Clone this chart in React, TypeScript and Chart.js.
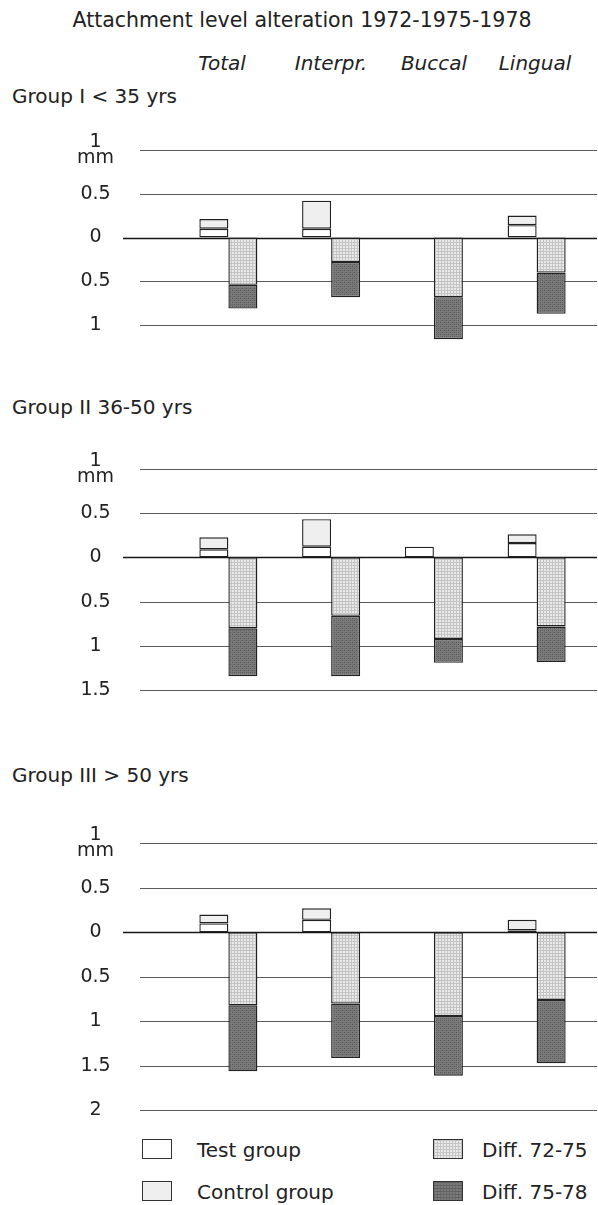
import React, { useEffect, useRef } from 'react';
import { Chart, registerables } from 'chart.js';

Chart.register(...registerables);

// ---------- DATA ----------
const TITLE = 'Attachment level alteration 1972-1975-1978';
const CATEGORIES = ['Total', 'Interpr.', 'Buccal', 'Lingual'];
const GROUP_LABELS = ['Group I < 35 yrs', 'Group II 36-50 yrs', 'Group III > 50 yrs'];
const SERIES_NAMES = ['Test group', 'Control group', 'Diff. 72-75', 'Diff. 75-78'];

// Group I < 35 yrs (mm)
const G1_TEST = [0.1, 0.1, 0, 0.14];
const G1_CONTROL = [0.11, 0.32, 0, 0.11];
const G1_DIFF_72_75 = [0.54, 0.28, 0.68, 0.4];
const G1_DIFF_75_78 = [0.27, 0.4, 0.48, 0.47];
const G1_TICKS = [1, 0.5, 0, -0.5, -1];

// Group II 36-50 yrs (mm)
const G2_TEST = [0.09, 0.12, 0.12, 0.16];
const G2_CONTROL = [0.135, 0.31, 0, 0.1];
const G2_DIFF_72_75 = [0.8, 0.66, 0.92, 0.78];
const G2_DIFF_75_78 = [0.54, 0.68, 0.27, 0.4];
const G2_TICKS = [1, 0.5, 0, -0.5, -1, -1.5];

// Group III > 50 yrs (mm)
const G3_TEST = [0.1, 0.14, 0, 0.02];
const G3_CONTROL = [0.1, 0.13, 0, 0.12];
const G3_DIFF_72_75 = [0.82, 0.8, 0.94, 0.76];
const G3_DIFF_75_78 = [0.74, 0.61, 0.67, 0.71];
const G3_TICKS = [1, 0.5, 0, -0.5, -1, -1.5, -2];

// ---------- LAYOUT / STYLE ----------
const FONT = "'DejaVu Sans', sans-serif";
const TEXT_COLOR = '#222';
const HEADER_X = [222, 331, 434, 535];

type PanelDef = {
  test: number[];
  control: number[];
  d1: number[];
  d2: number[];
  ticks: number[];
  label: string;
  labelTop: number;
  top: number;
  height: number;
  zeroY: number;
  pxPerMm: number;
};

const PANELS: PanelDef[] = [
  { test: G1_TEST, control: G1_CONTROL, d1: G1_DIFF_72_75, d2: G1_DIFF_75_78, ticks: G1_TICKS,
    label: GROUP_LABELS[0], labelTop: 86, top: 110, height: 245, zeroY: 237.5, pxPerMm: 87.7 },
  { test: G2_TEST, control: G2_CONTROL, d1: G2_DIFF_72_75, d2: G2_DIFF_75_78, ticks: G2_TICKS,
    label: GROUP_LABELS[1], labelTop: 397, top: 430, height: 285, zeroY: 557.3, pxPerMm: 88.7 },
  { test: G3_TEST, control: G3_CONTROL, d1: G3_DIFF_72_75, d2: G3_DIFF_75_78, ticks: G3_TICKS,
    label: GROUP_LABELS[2], labelTop: 765, top: 800, height: 330, zeroY: 932.3, pxPerMm: 89.1 },
];

function lightPattern(): CanvasPattern | string {
  const c = document.createElement('canvas');
  c.width = 3;
  c.height = 3;
  const g = c.getContext('2d');
  if (!g) return '#dcdcdc';
  g.fillStyle = '#e9e9e9';
  g.fillRect(0, 0, 3, 3);
  g.fillStyle = '#c4c4c4';
  g.fillRect(0, 0, 3, 1);
  g.fillRect(0, 0, 1, 3);
  return g.createPattern(c, 'repeat') || '#dcdcdc';
}

function darkPattern(): CanvasPattern | string {
  const c = document.createElement('canvas');
  c.width = 4;
  c.height = 4;
  const g = c.getContext('2d');
  if (!g) return '#6e6e6e';
  g.fillStyle = '#7a7a7a';
  g.fillRect(0, 0, 4, 4);
  g.fillStyle = '#575757';
  g.fillRect(0, 0, 1, 1);
  g.fillRect(2, 2, 1, 1);
  g.fillStyle = '#676767';
  g.fillRect(2, 0, 1, 1);
  g.fillRect(0, 2, 1, 1);
  return g.createPattern(c, 'repeat') || '#6e6e6e';
}

const gridPlugin = {
  id: 'customGrid',
  beforeDatasetsDraw(chart: any) {
    const y = chart.scales.y;
    const ctx = chart.ctx;
    ctx.save();
    for (const t of y.ticks) {
      const py = Math.round(y.getPixelForValue(t.value)) + 0.5;
      const zero = t.value === 0;
      ctx.strokeStyle = zero ? '#161616' : '#5a5a5a';
      ctx.lineWidth = zero ? 1.6 : 1.1;
      ctx.beginPath();
      ctx.moveTo(zero ? 123 : 140, py);
      ctx.lineTo(597, py);
      ctx.stroke();
    }
    ctx.restore();
  },
};

function PanelChart({ p }: { p: PanelDef }) {
  const ref = useRef<HTMLCanvasElement | null>(null);
  useEffect(() => {
    if (!ref.current) return;
    const light = lightPattern();
    const dark = darkPattern();
    const yMax = (p.zeroY - p.top) / p.pxPerMm;
    const yMin = -(p.top + p.height - p.zeroY) / p.pxPerMm;
    const common = {
      borderColor: '#222',
      borderWidth: 1.4,
      borderSkipped: false,
      categoryPercentage: 0.565,
      barPercentage: 1,
    };
    const chart = new Chart(ref.current, {
      type: 'bar',
      data: {
        labels: CATEGORIES,
        datasets: [
          { ...common, label: SERIES_NAMES[0], data: p.test, stack: 'gain', backgroundColor: '#ffffff' },
          { ...common, label: SERIES_NAMES[1], data: p.control, stack: 'gain', backgroundColor: '#efefef' },
          { ...common, label: SERIES_NAMES[2], data: p.d1.map((v) => -v), stack: 'loss', backgroundColor: light },
          { ...common, label: SERIES_NAMES[3], data: p.d2.map((v) => -v), stack: 'loss', backgroundColor: dark },
        ] as any,
      },
      options: {
        animation: false,
        responsive: false,
        maintainAspectRatio: false,
        devicePixelRatio: 1,
        layout: { padding: { left: 0, right: 10, top: 0, bottom: 0 } },
        plugins: { legend: { display: false }, tooltip: { enabled: false }, title: { display: false } },
        scales: {
          x: { display: false, stacked: true },
          y: {
            stacked: true,
            min: yMin,
            max: yMax,
            bounds: 'data',
            grid: { display: false, drawTicks: false },
            border: { display: false },
            afterBuildTicks: (s: any) => {
              s.ticks = p.ticks.map((v) => ({ value: v }));
            },
            afterFit: (s: any) => {
              s.width = 177;
              s.paddingTop = 0;
              s.paddingBottom = 0;
            },
            ticks: {
              autoSkip: false,
              padding: 63,
              crossAlign: 'center',
              color: TEXT_COLOR,
              font: { family: FONT, size: 19, lineHeight: '16px' },
              callback: (v: any) => (Number(v) === 1 ? ['1', 'mm'] : String(Math.abs(Number(v)))),
            },
          },
        } as any,
      },
      plugins: [gridPlugin],
    });
    return () => chart.destroy();
  }, [p]);
  return (
    <canvas
      ref={ref}
      width={598}
      height={p.height}
      style={{ position: 'absolute', left: 0, top: p.top, width: 598, height: p.height }}
    />
  );
}

const LEGEND_ITEMS = [
  { name: SERIES_NAMES[0], x: 142, textX: 197, y: 1139, bg: { backgroundColor: '#ffffff' } },
  { name: SERIES_NAMES[1], x: 142, textX: 197, y: 1181, bg: { backgroundColor: '#efefef' } },
  {
    name: SERIES_NAMES[2], x: 433, textX: 482, y: 1139,
    bg: {
      backgroundColor: '#e9e9e9',
      backgroundImage:
        'linear-gradient(#c4c4c4 1px, transparent 1px), linear-gradient(90deg, #c4c4c4 1px, transparent 1px)',
      backgroundSize: '3px 3px',
    },
  },
  {
    name: SERIES_NAMES[3], x: 433, textX: 482, y: 1181,
    bg: {
      backgroundColor: '#7a7a7a',
      backgroundImage:
        'linear-gradient(#626262 1px, transparent 1px), linear-gradient(90deg, #6a6a6a 1px, transparent 1px)',
      backgroundSize: '3px 3px',
    },
  },
];

export default function App() {
  const textBase: React.CSSProperties = {
    position: 'absolute',
    fontFamily: FONT,
    fontSize: 20,
    lineHeight: '20px',
    color: TEXT_COLOR,
    whiteSpace: 'nowrap',
  };
  return (
    <div style={{ position: 'absolute', left: 0, top: 0, width: 598, height: 1205, background: '#fff', overflow: 'hidden' }}>
      <div style={{ ...textBase, fontSize: 20.5, left: 0, width: 604, top: 10, textAlign: 'center' }}>{TITLE}</div>
      {CATEGORIES.map((c, i) => (
        <div
          key={c}
          style={{ ...textBase, fontStyle: 'italic', left: HEADER_X[i] - 60, width: 120, top: 53, textAlign: 'center' }}
        >
          {c}
        </div>
      ))}
      {PANELS.map((p, i) => (
        <React.Fragment key={i}>
          <PanelChart p={p} />
          <div style={{ ...textBase, left: 12, top: p.labelTop }}>{p.label}</div>
        </React.Fragment>
      ))}
      {LEGEND_ITEMS.map((it) => (
        <React.Fragment key={it.name}>
          <div
            style={{
              position: 'absolute',
              left: it.x,
              top: it.y,
              width: 30,
              height: 20,
              boxSizing: 'border-box',
              border: '1.5px solid #333',
              ...it.bg,
            }}
          />
          <div style={{ ...textBase, left: it.textX, top: it.y + 0.5 }}>{it.name}</div>
        </React.Fragment>
      ))}
    </div>
  );
}
